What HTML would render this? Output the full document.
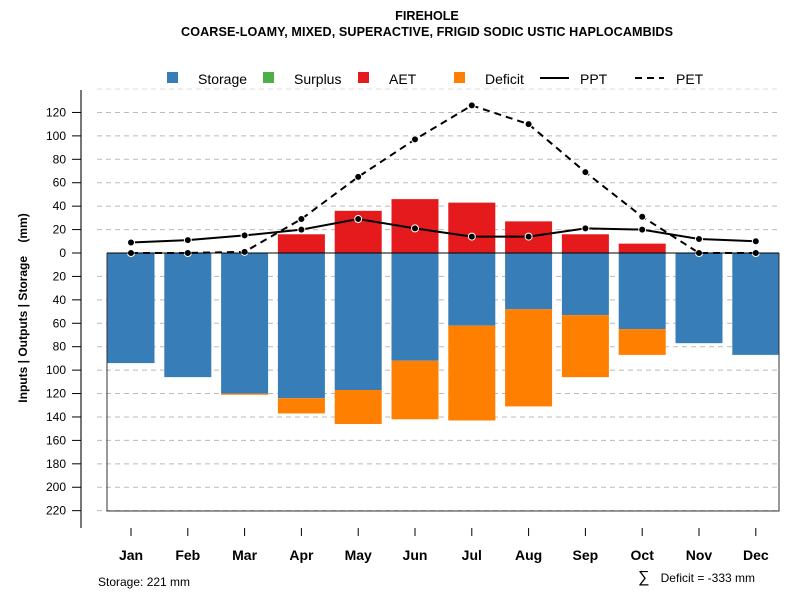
<!DOCTYPE html>
<html><head><meta charset="utf-8"><style>
body{margin:0;background:#fff}
svg{display:block;font-family:"Liberation Sans",Arial,sans-serif}
</style></head><body>
<svg id="c" width="800" height="600">
<text x="427" y="20" text-anchor="middle" font-size="12.6" font-weight="bold">FIREHOLE</text>
<text x="427" y="36" text-anchor="middle" font-size="12.6" font-weight="bold" textLength="492">COARSE-LOAMY, MIXED, SUPERACTIVE, FRIGID SODIC USTIC HAPLOCAMBIDS</text>
<g id="grid"></g><g id="bars"></g><g id="lines"></g><g id="axes"></g>
<g font-size="14">
<rect x="167" y="72" width="11" height="11" fill="#377EB8"/><text x="198" y="84">Storage</text>
<rect x="263" y="72" width="11" height="11" fill="#4DAF4A"/><text x="294" y="84">Surplus</text>
<rect x="358" y="72" width="11" height="11" fill="#E41A1C"/><text x="389" y="84">AET</text>
<rect x="454" y="72" width="11" height="11" fill="#FF7F00"/><text x="485" y="84">Deficit</text>
<line x1="540" y1="78" x2="569" y2="78" stroke="#000" stroke-width="2"/><text x="580" y="84">PPT</text>
<line x1="635" y1="78" x2="664" y2="78" stroke="#000" stroke-width="2" stroke-dasharray="7,5"/><text x="676" y="84">PET</text>
</g>
<text transform="translate(27,308) rotate(-90)" text-anchor="middle" font-size="12" font-weight="bold" xml:space="preserve">Inputs | Outputs | Storage    (mm)</text>
<text x="98" y="586" font-size="12">Storage: 221 mm</text>
<text x="638" y="582" font-size="16">∑</text>
<text x="755" y="582" text-anchor="end" font-size="12">Deficit = -333 mm</text>
</svg>
<script>
const months=["Jan","Feb","Mar","Apr","May","Jun","Jul","Aug","Sep","Oct","Nov","Dec"];
const storage=[94,106,120,124,117,92,62,48,53,65,77,87];
const deficit=[0,0,1,13,29,50,81,83,53,22,0,0];
const aet=[0,0,0,16,36,46,43,27,16,8,0,0];
const ppt=[9,11,15,20,29,21,14,14,21,20,12,10];
const pet=[0,0,1,29,65,97,126,110,69,31,0,0];
const upTicks=[20,40,60,80,100,120];
const downTicks=[0,20,40,60,80,100,120,140,160,180,200,220];
const NS="http://www.w3.org/2000/svg";
const y0=253,k=1.1712;
const yUp=v=>y0-v*k, yDn=v=>y0+v*k;
const xc=i=>131+i*56.8, bw=47;
function mk(p,t,a){const e=document.createElementNS(NS,t);for(const q in a)e.setAttribute(q,a[q]);document.getElementById(p).appendChild(e);return e;}
for(const v of [...upTicks,140]){const g=mk('grid','line',{x1:97,x2:780,y1:yUp(v),y2:yUp(v),stroke:v==140?'#ddd':'#bbb','stroke-dasharray':'5,4'});

}
for(const v of downTicks.slice(1)){const g=mk('grid','line',{x1:97,x2:780,y1:yDn(v),y2:yDn(v),stroke:'#bbb','stroke-dasharray':'5,4'});

}
months.forEach((m,i)=>{const x=xc(i)-bw/2;
 let r=mk('bars','rect',{x:x,y:y0,width:bw,height:storage[i]*k,fill:'#377EB8'});
 
 
 if(deficit[i]>0){r=mk('bars','rect',{x:x,y:yDn(storage[i]),width:bw,height:deficit[i]*k,fill:'#FF7F00'});
 
 }
 if(aet[i]>0){r=mk('bars','rect',{x:x,y:yUp(aet[i]),width:bw,height:aet[i]*k,fill:'#E41A1C'});
 
 }
});
let b=mk('axes','path',{d:`M107 ${y0} V511 H779 V${y0}`,fill:'none',stroke:'#333'});


b=mk('axes','line',{x1:107,x2:779,y1:y0,y2:y0,stroke:'#000'});


function series(arr,name,dash){
 const l=mk('lines','polyline',{points:arr.map((v,i)=>xc(i)+','+yUp(v)).join(' '),fill:'none',stroke:'#000','stroke-width':2,'stroke-dasharray':dash});
 
 
 arr.forEach((v,i)=>{const c=mk('lines','circle',{cx:xc(i),cy:yUp(v),r:3.5,fill:'#000',stroke:'#fff','stroke-width':1});
 
 });
}
series(pet,'pet','7,5');series(ppt,'ppt','none');
b=mk('axes','line',{x1:81,x2:81,y1:90,y2:528,stroke:'#777','stroke-width':2});


function tick(y,lab){const t=mk('axes','line',{x1:72,x2:81,y1:y,y2:y,stroke:'#000'});
 
 
 const tx=mk('axes','text',{x:66,y:y+4,'text-anchor':'end','font-size':12});tx.textContent=lab;
 
 }
upTicks.forEach(v=>tick(yUp(v),v));downTicks.forEach(v=>tick(yDn(v),v));
months.forEach((m,i)=>{const t=mk('axes','line',{x1:xc(i),x2:xc(i),y1:528,y2:536,stroke:'#000'});
 
 
 const tx=mk('axes','text',{x:xc(i),y:560,'text-anchor':'middle','font-size':14,'font-weight':'bold'});tx.textContent=m;
 
 });
</script>
</body></html>
